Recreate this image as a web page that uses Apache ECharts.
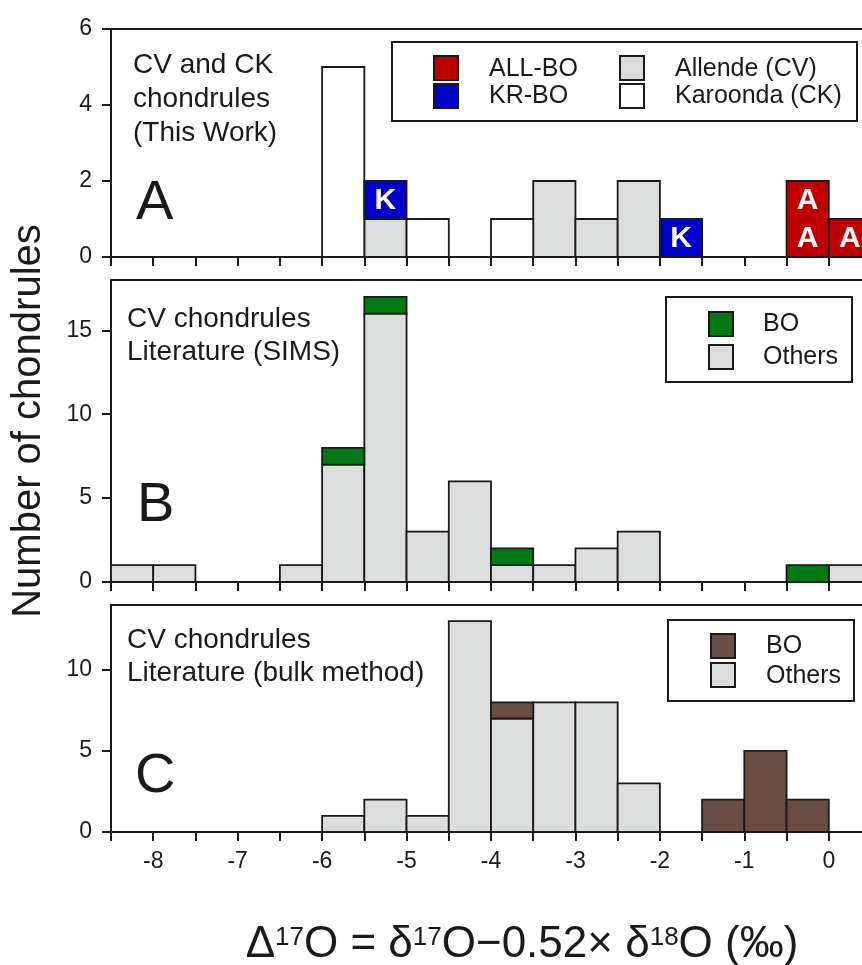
<!DOCTYPE html>
<html>
<head>
<meta charset="utf-8">
<script src="https://cdn.jsdelivr.net/npm/echarts@6/dist/echarts.min.js"></script>
<style>
  html, body { margin: 0; padding: 0; background: #fff; }
  #main { width: 862px; height: 965px; }
</style>
</head>
<body>
<div id="main"></div>
<script>
// bin edges (0.5 wide)
var binEdges = [-8.5, -8, -7.5, -7, -6.5, -6, -5.5, -5, -4.5, -4, -3.5, -3, -2.5, -2, -1.5, -1, -0.5, 0, 0.5];

// panel A - this work
var allendeA  = [0, 0, 0, 0, 0, 0, 1, 0, 0, 0, 2, 1, 2, 0, 0, 0, 0, 0];
var karoondaA = [0, 0, 0, 0, 0, 5, 0, 1, 0, 1, 0, 0, 0, 0, 0, 0, 0, 0];
var krboA     = [0, 0, 0, 0, 0, 0, 1, 0, 0, 0, 0, 0, 0, 1, 0, 0, 0, 0];
var allboA    = [0, 0, 0, 0, 0, 0, 0, 0, 0, 0, 0, 0, 0, 0, 0, 0, 2, 1];

// panel B - literature SIMS
var othersB = [1, 1, 0, 0, 1, 7, 16, 3, 6, 1, 1, 2, 3, 0, 0, 0, 0, 1];
var boB     = [0, 0, 0, 0, 0, 1, 1, 0, 0, 1, 0, 0, 0, 0, 0, 0, 1, 0];

// panel C - literature bulk
var othersC = [0, 0, 0, 0, 0, 1, 2, 1, 13, 7, 8, 8, 3, 0, 0, 0, 0, 0];
var boC     = [0, 0, 0, 0, 0, 0, 0, 0, 0, 1, 0, 0, 0, 0, 2, 5, 2, 0];

var yTicksA = [0, 2, 4, 6];
var yTicksB = [0, 5, 10, 15];
var yTicksC = [0, 5, 10];
var xTickLabels = [-8, -7, -6, -5, -4, -3, -2, -1, 0];

var INK = '#1a1a1a';
var GRAY = '#dcdedd';
var WHITE = '#ffffff';
var RED = '#c00000';
var BLUE = '#0000cc';
var GREEN = '#007a14';
var BROWN = '#6a4d45';
var FONT = '"Liberation Sans", Arial, sans-serif';

// stack layers bottom-up, returns [x0, x1, base, top] per non-empty bin
function stackBins(layers) {
    var base = [];
    for (var i = 0; i < binEdges.length - 1; i++) base.push(0);
    return layers.map(function (counts) {
        var out = [];
        for (var i = 0; i < counts.length; i++) {
            if (counts[i] > 0) {
                out.push([binEdges[i], binEdges[i + 1], base[i], base[i] + counts[i]]);
                base[i] += counts[i];
            }
        }
        return out;
    });
}

function binRenderer(letter) {
    return function (params, api) {
        var x0 = api.value(0), x1 = api.value(1), y0 = api.value(2), y1 = api.value(3);
        var lo = api.coord([x0, y0]);
        var hi = api.coord([x1, y1]);
        var children = [{
            type: 'rect',
            shape: { x: lo[0], y: hi[1], width: hi[0] - lo[0], height: lo[1] - hi[1] },
            style: { fill: api.visual('color'), stroke: INK, lineWidth: 1.8 }
        }];
        if (letter) {
            for (var k = y0; k < y1; k++) {
                var c = api.coord([(x0 + x1) / 2, k + 0.5]);
                children.push({
                    type: 'text', x: c[0], y: c[1] + 1,
                    style: { text: letter, fill: '#fff', font: 'bold 30px ' + FONT, align: 'center', verticalAlign: 'middle' }
                });
            }
        }
        return { type: 'group', children: children };
    };
}

function binSeries(name, data, color, idx, letter) {
    return {
        name: name,
        type: 'custom',
        xAxisIndex: idx,
        yAxisIndex: idx,
        itemStyle: { color: color },
        encode: { x: [0, 1], y: [2, 3] },
        renderItem: binRenderer(letter),
        data: data
    };
}

var stA = stackBins([allendeA, karoondaA, krboA, allboA]);
var stB = stackBins([othersB, boB]);
var stC = stackBins([othersC, boC]);

function makeX(idx, showLabels) {
    return {
        type: 'value', gridIndex: idx, min: -8.5, max: 0.5, interval: 0.5,
        splitLine: { show: false },
        axisLine: { onZero: false, lineStyle: { color: INK, width: 2 } },
        axisTick: { length: 9, lineStyle: { color: INK, width: 2 } },
        axisLabel: {
            show: showLabels, customValues: xTickLabels, margin: 18,
            color: INK, fontSize: 23, fontFamily: FONT
        }
    };
}

function makeY(idx, max, ticks) {
    return {
        type: 'value', gridIndex: idx, min: 0, max: max,
        splitLine: { show: false },
        axisLine: { show: true, onZero: false, lineStyle: { color: INK, width: 2 } },
        axisTick: { show: true, length: 9, customValues: ticks, lineStyle: { color: INK, width: 2 } },
        axisLabel: { customValues: ticks, margin: 19, color: INK, fontSize: 23, fontFamily: FONT }
    };
}

function gridBox(top, height) {
    return {
        left: 111, top: top, width: 760, height: height,
        outerBoundsMode: 'none', containLabel: false,
        show: true, borderColor: INK, borderWidth: 2
    };
}

function txt(x, y, s, size, extra) {
    var o = { type: 'text', x: x, y: y, style: { text: s, fill: INK, font: size + 'px ' + FONT, verticalAlign: 'middle' } };
    if (extra) for (var k in extra) o.style[k] = extra[k];
    return o;
}

function box(x, y, w, h, color) {
    return { type: 'rect', shape: { x: x, y: y, width: w, height: h }, style: { fill: color, stroke: INK, lineWidth: 2 } };
}

var myChart = echarts.init(document.getElementById('main'));
var option = {
    backgroundColor: '#fff',
    animation: false,
    grid: [gridBox(29, 228), gridBox(280, 302), gridBox(605, 227)],
    xAxis: [makeX(0, false), makeX(1, false), makeX(2, true)],
    yAxis: [makeY(0, 6, yTicksA), makeY(1, 18, yTicksB), makeY(2, 14, yTicksC)],
    series: [
        binSeries('Allende (CV)', stA[0], GRAY, 0),
        binSeries('Karoonda (CK)', stA[1], WHITE, 0),
        binSeries('KR-BO', stA[2], BLUE, 0, 'K'),
        binSeries('ALL-BO', stA[3], RED, 0, 'A'),
        binSeries('Others (SIMS)', stB[0], GRAY, 1),
        binSeries('BO (SIMS)', stB[1], GREEN, 1),
        binSeries('Others (bulk)', stC[0], GRAY, 2),
        binSeries('BO (bulk)', stC[1], BROWN, 2)
    ],
    graphic: [
        // panel texts
        txt(133, 99.5, 'CV and CK\nchondrules\n(This Work)', 28, { lineHeight: 34 }),
        txt(136, 204, 'A', 56),
        txt(127, 336, 'CV chondrules\nLiterature (SIMS)', 28, { lineHeight: 33 }),
        txt(137, 506, 'B', 56),
        txt(127, 657, 'CV chondrules\nLiterature (bulk method)', 28, { lineHeight: 33 }),
        txt(135, 777, 'C', 56),
        // legend A
        { type: 'rect', shape: { x: 392, y: 42, width: 465, height: 79 }, style: { fill: '#fff', stroke: INK, lineWidth: 2 } },
        box(434, 56, 24, 24, RED),
        box(434, 84, 24, 24, BLUE),
        box(620, 56, 24, 24, GRAY),
        box(620, 84, 24, 24, WHITE),
        txt(489, 69.5, 'ALL-BO', 25),
        txt(489, 96.5, 'KR-BO', 25),
        txt(675, 69.5, 'Allende (CV)', 25),
        txt(675, 96.5, 'Karoonda (CK)', 25),
        // legend B
        { type: 'rect', shape: { x: 666, y: 297, width: 186, height: 85 }, style: { fill: '#fff', stroke: INK, lineWidth: 2 } },
        box(709, 312, 24, 24, GREEN),
        box(709, 345, 24, 24, GRAY),
        txt(763, 324, 'BO', 25),
        txt(763, 357.5, 'Others', 25),
        // legend C
        { type: 'rect', shape: { x: 668, y: 620, width: 186, height: 81 }, style: { fill: '#fff', stroke: INK, lineWidth: 2 } },
        box(711, 634, 24, 24, BROWN),
        box(711, 663, 24, 24, GRAY),
        txt(766, 646.5, 'BO', 25),
        txt(766, 676, 'Others', 25),
        // axis titles
        {
            type: 'text', x: 29, y: 421, rotation: Math.PI / 2,
            style: { text: 'Number of chondrules', fill: INK, font: '40px ' + FONT, align: 'center', verticalAlign: 'middle' }
        },
        {
            type: 'text', x: 522, y: 945,
            style: {
                text: 'Δ{s|17}O = δ{s|17}O−0.52× δ{s|18}O (‰)',
                fill: INK, font: '44px ' + FONT, align: 'center', verticalAlign: 'middle',
                rich: { s: { fontSize: 26, fontFamily: FONT, fill: INK, verticalAlign: 'top', lineHeight: 26, padding: [2, 0, 0, 0] } }
            }
        }
    ]
};
myChart.setOption(option);
</script>
</body>
</html>
